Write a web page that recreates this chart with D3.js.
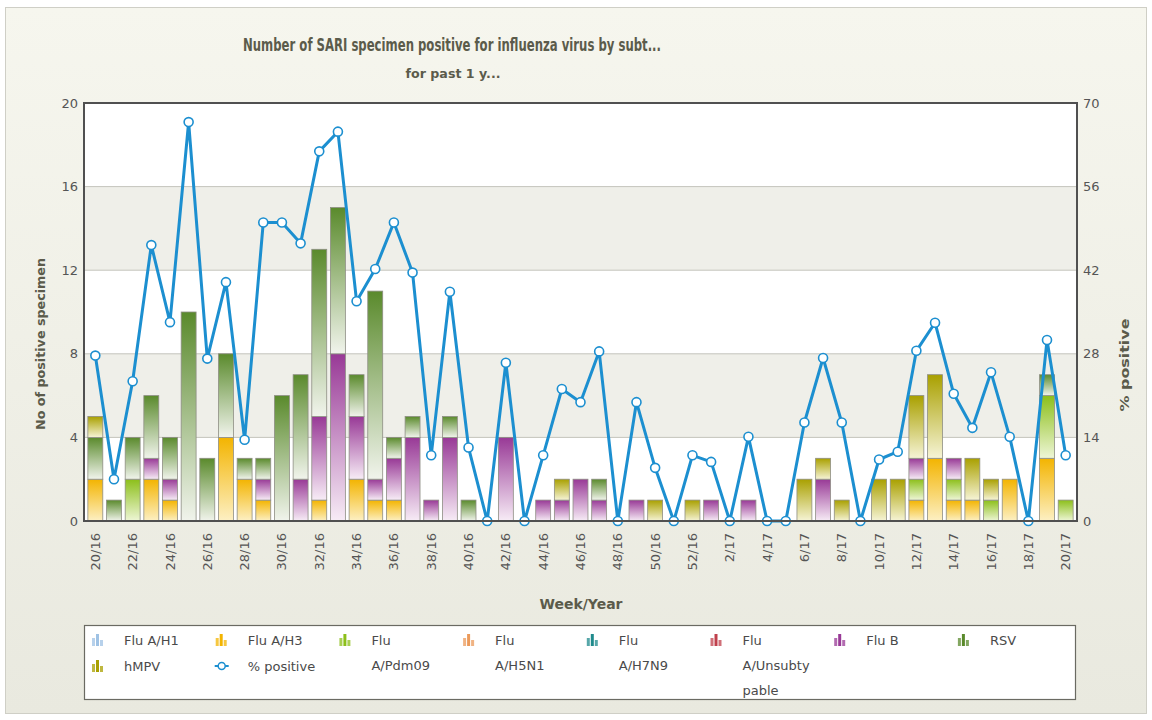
<!DOCTYPE html>
<html>
<head>
<meta charset="utf-8">
<script src="https://cdn.jsdelivr.net/npm/d3@7"></script>
<style>
  body { margin: 0; background: #ffffff; }
  text { font-family: Tahoma, "DejaVu Sans", sans-serif; }
</style>
</head>
<body>
<div id="chart"></div>
<script>
// week labels, 20/16 .. 20/17
var weeks = ['20/16','21/16','22/16','23/16','24/16','25/16','26/16','27/16','28/16','29/16',
  '30/16','31/16','32/16','33/16','34/16','35/16','36/16','37/16','38/16','39/16',
  '40/16','41/16','42/16','43/16','44/16','45/16','46/16','47/16','48/16','49/16',
  '50/16','51/16','52/16','1/17','2/17','3/17','4/17','5/17','6/17','7/17',
  '8/17','9/17','10/17','11/17','12/17','13/17','14/17','15/17','16/17','17/17',
  '18/17','19/17','20/17']

var fluH1   = [0,0,0,0,0,0,0,0,0,0, 0,0,0,0,0,0,0,0,0,0, 0,0,0,0,0,0,0,0,0,0, 0,0,0,0,0,0,0,0,0,0, 0,0,0,0,0,0,0,0,0,0, 0,0,0]
var fluH3   = [2,0,0,2,1,0,0,4,2,1, 0,0,1,0,2,1,1,0,0,0, 0,0,0,0,0,0,0,0,0,0, 0,0,0,0,0,0,0,0,0,0, 0,0,0,0,1,3,1,1,0,2, 0,3,0]
var pdm09   = [0,0,2,0,0,0,0,0,0,0, 0,0,0,0,0,0,0,0,0,0, 0,0,0,0,0,0,0,0,0,0, 0,0,0,0,0,0,0,0,0,0, 0,0,0,0,1,0,1,0,1,0, 0,3,1]
var fluH5N1 = [0,0,0,0,0,0,0,0,0,0, 0,0,0,0,0,0,0,0,0,0, 0,0,0,0,0,0,0,0,0,0, 0,0,0,0,0,0,0,0,0,0, 0,0,0,0,0,0,0,0,0,0, 0,0,0]
var fluH7N9 = [0,0,0,0,0,0,0,0,0,0, 0,0,0,0,0,0,0,0,0,0, 0,0,0,0,0,0,0,0,0,0, 0,0,0,0,0,0,0,0,0,0, 0,0,0,0,0,0,0,0,0,0, 0,0,0]
var unsub   = [0,0,0,0,0,0,0,0,0,0, 0,0,0,0,0,0,0,0,0,0, 0,0,0,0,0,0,0,0,0,0, 0,0,0,0,0,0,0,0,0,0, 0,0,0,0,0,0,0,0,0,0, 0,0,0]
var fluB    = [0,0,0,1,1,0,0,0,0,1, 0,2,4,8,3,1,2,4,1,4, 0,0,4,0,1,1,2,1,0,1, 0,0,0,1,0,1,0,0,0,2, 0,0,0,0,1,0,1,0,0,0, 0,0,0]
var rsv     = [2,1,2,3,2,10,3,4,1,1, 6,5,8,7,2,9,1,1,0,1, 1,0,0,0,0,0,0,1,0,0, 0,0,0,0,0,0,0,0,0,0, 0,0,0,0,0,0,0,0,0,0, 0,1,0]
var hmpv    = [1,0,0,0,0,0,0,0,0,0, 0,0,0,0,0,0,0,0,0,0, 0,0,0,0,0,1,0,0,0,0, 1,0,1,0,0,0,0,0,2,1, 1,0,2,2,3,4,0,2,1,0, 0,0,0]
var pctPositive = [27.7,7.0,23.4,46.2,33.3,66.8,27.2,40.0,13.6,50.0,
  50.0,46.5,61.9,65.2,36.8,42.2,50.0,41.6,11.0,38.4,
  12.3,0,26.5,0,11.0,22.1,19.9,28.4,0,19.9,
  8.9,0,11.0,9.9,0,14.1,0,0,16.5,27.3,
  16.5,0,10.3,11.6,28.5,33.2,21.3,15.6,24.9,14.1,
  0,30.3,11.0]

var leftTicks = [0,4,8,12,16,20]
var rightTicks = [0,14,28,42,56,70]

var seriesNames = ['Flu A/H1','Flu A/H3','Flu A/Pdm09','Flu A/H5N1','Flu A/H7N9','Flu A/Unsubtypable','Flu B','RSV','hMPV']
var seriesData = [fluH1, fluH3, pdm09, fluH5N1, fluH7N9, unsub, fluB, rsv, hmpv]
// top / bottom gradient colours per series
var seriesColors = [['#9fc2e4','#e8f1fa'], ['#f3b400','#fdf0c4'], ['#8cbf1a','#eef6d6'], ['#eb9a5a','#fbe8d8'],
  ['#1f8a8c','#d4ecec'], ['#c0404c','#f6dcdc'], ['#983996','#f7ecf6'], ['#5a8a2c','#f1f4ec'], ['#a9a000','#f6f4d6']]

var W = 1152, H = 720
var plotL = 84, plotR = 1077, plotT = 103, plotB = 521

var svg = d3.select('#chart').append('svg')
  .attr('width', W)
  .attr('height', H)

var defs = svg.append('defs')
var bg = defs.append('linearGradient').attr('id', 'bg_grad')
  .attr('x1', 0).attr('y1', 0).attr('x2', 0).attr('y2', 1)
bg.append('stop').attr('offset', '0%').attr('stop-color', '#f6f6ee')
bg.append('stop').attr('offset', '100%').attr('stop-color', '#e9e9df')

seriesColors.forEach(function(c, i) {
  var g = defs.append('linearGradient').attr('id', 'sg' + i)
    .attr('x1', 0).attr('y1', 0).attr('x2', 0).attr('y2', 1)
  g.append('stop').attr('offset', '0%').attr('stop-color', c[0])
  g.append('stop').attr('offset', '100%').attr('stop-color', c[1])
})

// outer background
svg.append('rect')
  .attr('x', 0).attr('y', 0).attr('width', W).attr('height', H)
  .attr('fill', '#ffffff')
svg.append('rect')
  .attr('x', 5.5).attr('y', 7.5).attr('width', W - 11).attr('height', H - 14)
  .attr('fill', 'url(#bg_grad)')
  .attr('stroke', '#cfcfc6')

var x = d3.scaleBand().domain(weeks).range([86, 1075]).paddingInner(0.2).paddingOuter(0.1)
var yL = d3.scaleLinear().domain([0, 20]).range([plotB, plotT])
var yR = d3.scaleLinear().domain([0, 70]).range([plotB, plotT])

// plot area with alternating bands
svg.append('rect')
  .attr('x', plotL).attr('y', plotT).attr('width', plotR - plotL).attr('height', plotB - plotT)
  .attr('fill', '#ffffff')
for (var i = 0; i < leftTicks.length - 1; i++) {
  if (i % 2 == 1) {
    svg.append('rect')
      .attr('x', plotL).attr('y', yL(leftTicks[i + 1]))
      .attr('width', plotR - plotL).attr('height', yL(leftTicks[i]) - yL(leftTicks[i + 1]))
      .attr('fill', '#efefe9')
  }
}
svg.append('g').selectAll('line')
  .data(leftTicks.slice(1, -1))
  .join('line')
  .attr('x1', plotL).attr('x2', plotR)
  .attr('y1', function(d) { return yL(d) }).attr('y2', function(d) { return yL(d) })
  .attr('stroke', '#c4c4bc').attr('stroke-width', 1)

// stacked bars
var rows = weeks.map(function(w, i) {
  var r = { week: w }
  seriesNames.forEach(function(s, j) { r[s] = seriesData[j][i] })
  return r
})
var stacked = d3.stack().keys(seriesNames)(rows)

var bars = svg.append('g').attr('id', 'bars')
stacked.forEach(function(layer, j) {
  bars.append('g')
    .selectAll('rect')
    .data(layer.filter(function(d) { return d[1] - d[0] > 0 }))
    .join('rect')
    .attr('x', function(d) { return x(d.data.week) })
    .attr('width', x.bandwidth())
    .attr('y', function(d) { return yL(d[1]) })
    .attr('height', function(d) { return yL(d[0]) - yL(d[1]) })
    .attr('fill', 'url(#sg' + j + ')')
    .attr('stroke', '#8e8e84')
    .attr('stroke-width', 0.8)
})

// % positive line
var line = d3.line()
  .x(function(d, i) { return x(weeks[i]) + x.bandwidth() / 2 })
  .y(function(d) { return yR(d) })
svg.append('path')
  .datum(pctPositive)
  .attr('d', line)
  .attr('fill', 'none')
  .attr('stroke', '#1c8fd0')
  .attr('stroke-width', 3)
  .attr('stroke-linejoin', 'round')
svg.append('g').selectAll('circle')
  .data(pctPositive)
  .join('circle')
  .attr('cx', function(d, i) { return x(weeks[i]) + x.bandwidth() / 2 })
  .attr('cy', function(d) { return yR(d) })
  .attr('r', 4.5)
  .attr('fill', '#ffffff')
  .attr('stroke', '#1c8fd0')
  .attr('stroke-width', 1.6)

// plot frame
svg.append('rect')
  .attr('x', plotL).attr('y', plotT).attr('width', plotR - plotL).attr('height', plotB - plotT)
  .attr('fill', 'none')
  .attr('stroke', '#505050')
  .attr('stroke-width', 2)

// axes
var axL = svg.append('g').attr('transform', 'translate(' + plotL + ',0)')
  .call(d3.axisLeft(yL).tickValues(leftTicks).tickSize(0).tickPadding(6))
axL.select('.domain').remove()
axL.selectAll('text').attr('font-size', 13).attr('fill', '#555')

var axR = svg.append('g').attr('transform', 'translate(' + plotR + ',0)')
  .call(d3.axisRight(yR).tickValues(rightTicks).tickSize(0).tickPadding(6))
axR.select('.domain').remove()
axR.selectAll('text').attr('font-size', 13).attr('fill', '#555')

var axB = svg.append('g').attr('transform', 'translate(0,' + plotB + ')')
  .call(d3.axisBottom(x).tickValues(weeks.filter(function(d, i) { return i % 2 == 0 })).tickSize(0))
axB.select('.domain').remove()
axB.selectAll('text')
  .attr('font-size', 13).attr('fill', '#555')
  .attr('text-anchor', 'end')
  .attr('dy', '0.35em')
  .attr('transform', 'translate(0,12) rotate(-90)')
  .attr('y', 0).attr('x', 0)

// titles
svg.append('text')
  .attr('x', 452).attr('y', 51)
  .attr('text-anchor', 'middle')
  .attr('font-size', 17).attr('font-weight', 'bold').attr('fill', '#5b5b4b')
  .attr('textLength', 418).attr('lengthAdjust', 'spacingAndGlyphs')
  .text('Number of SARI specimen positive for influenza virus by subt...')
svg.append('text')
  .attr('x', 453).attr('y', 78)
  .attr('text-anchor', 'middle')
  .attr('font-size', 13).attr('font-weight', 'bold').attr('fill', '#5b5b4b')
  .attr('textLength', 95).attr('lengthAdjust', 'spacingAndGlyphs')
  .text('for past 1 y...')

svg.append('text')
  .attr('transform', 'translate(45,344) rotate(-90)')
  .attr('text-anchor', 'middle')
  .attr('font-size', 13).attr('font-weight', 'bold').attr('fill', '#5b5b4b')
  .attr('textLength', 172).attr('lengthAdjust', 'spacingAndGlyphs')
  .text('No of positive specimen')
svg.append('text')
  .attr('transform', 'translate(1129,365) rotate(-90)')
  .attr('text-anchor', 'middle')
  .attr('font-size', 13).attr('font-weight', 'bold').attr('fill', '#5b5b4b')
  .attr('textLength', 93).attr('lengthAdjust', 'spacingAndGlyphs')
  .text('% positive')
svg.append('text')
  .attr('x', 581).attr('y', 609)
  .attr('text-anchor', 'middle')
  .attr('font-size', 14).attr('font-weight', 'bold').attr('fill', '#5b5b4b')
  .text('Week/Year')

// legend
var legend = svg.append('g').attr('id', 'legend')
legend.append('rect')
  .attr('x', 84.5).attr('y', 625.5).attr('width', 991).attr('height', 74)
  .attr('fill', '#ffffff').attr('stroke', '#6a6a62').attr('stroke-width', 1.2)

var legendItems = [
  { name: 'Flu A/H1', lines: ['Flu A/H1'], s: 0, col: 0, row: 0 },
  { name: 'Flu A/H3', lines: ['Flu A/H3'], s: 1, col: 1, row: 0 },
  { name: 'Flu A/Pdm09', lines: ['Flu', 'A/Pdm09'], s: 2, col: 2, row: 0 },
  { name: 'Flu A/H5N1', lines: ['Flu', 'A/H5N1'], s: 3, col: 3, row: 0 },
  { name: 'Flu A/H7N9', lines: ['Flu', 'A/H7N9'], s: 4, col: 4, row: 0 },
  { name: 'Flu A/Unsubtypable', lines: ['Flu', 'A/Unsubty', 'pable'], s: 5, col: 5, row: 0 },
  { name: 'Flu B', lines: ['Flu B'], s: 6, col: 6, row: 0 },
  { name: 'RSV', lines: ['RSV'], s: 7, col: 7, row: 0 },
  { name: 'hMPV', lines: ['hMPV'], s: 8, col: 0, row: 1 },
  { name: '% positive', lines: ['% positive'], s: -1, col: 1, row: 1 }
]
var colX = 92, colW = 123.7, rowY = 640, rowH = 26

legendItems.forEach(function(it) {
  var lx = colX + it.col * colW
  var ly = rowY + it.row * rowH
  var g = legend.append('g')
  if (it.s >= 0) {
    var c = seriesColors[it.s][0]
    var hs = [8, 12, 6]
    hs.forEach(function(h, k) {
      g.append('rect')
        .attr('x', lx + k * 4).attr('y', ly + 6 - h)
        .attr('width', 3).attr('height', h)
        .attr('fill', c).attr('opacity', k == 1 ? 1 : 0.75)
    })
  } else {
    g.append('line')
      .attr('x1', lx - 1).attr('x2', lx + 13).attr('y1', ly).attr('y2', ly)
      .attr('stroke', '#1c8fd0').attr('stroke-width', 2)
    g.append('circle')
      .attr('cx', lx + 6).attr('cy', ly).attr('r', 3.5)
      .attr('fill', '#fff').attr('stroke', '#1c8fd0').attr('stroke-width', 1.5)
  }
  it.lines.forEach(function(t, k) {
    g.append('text')
      .attr('x', lx + 32).attr('y', ly + 5 + k * 25)
      .attr('font-size', 13).attr('fill', '#4a4a4a')
      .text(t)
  })
})
</script>
</body>
</html>
